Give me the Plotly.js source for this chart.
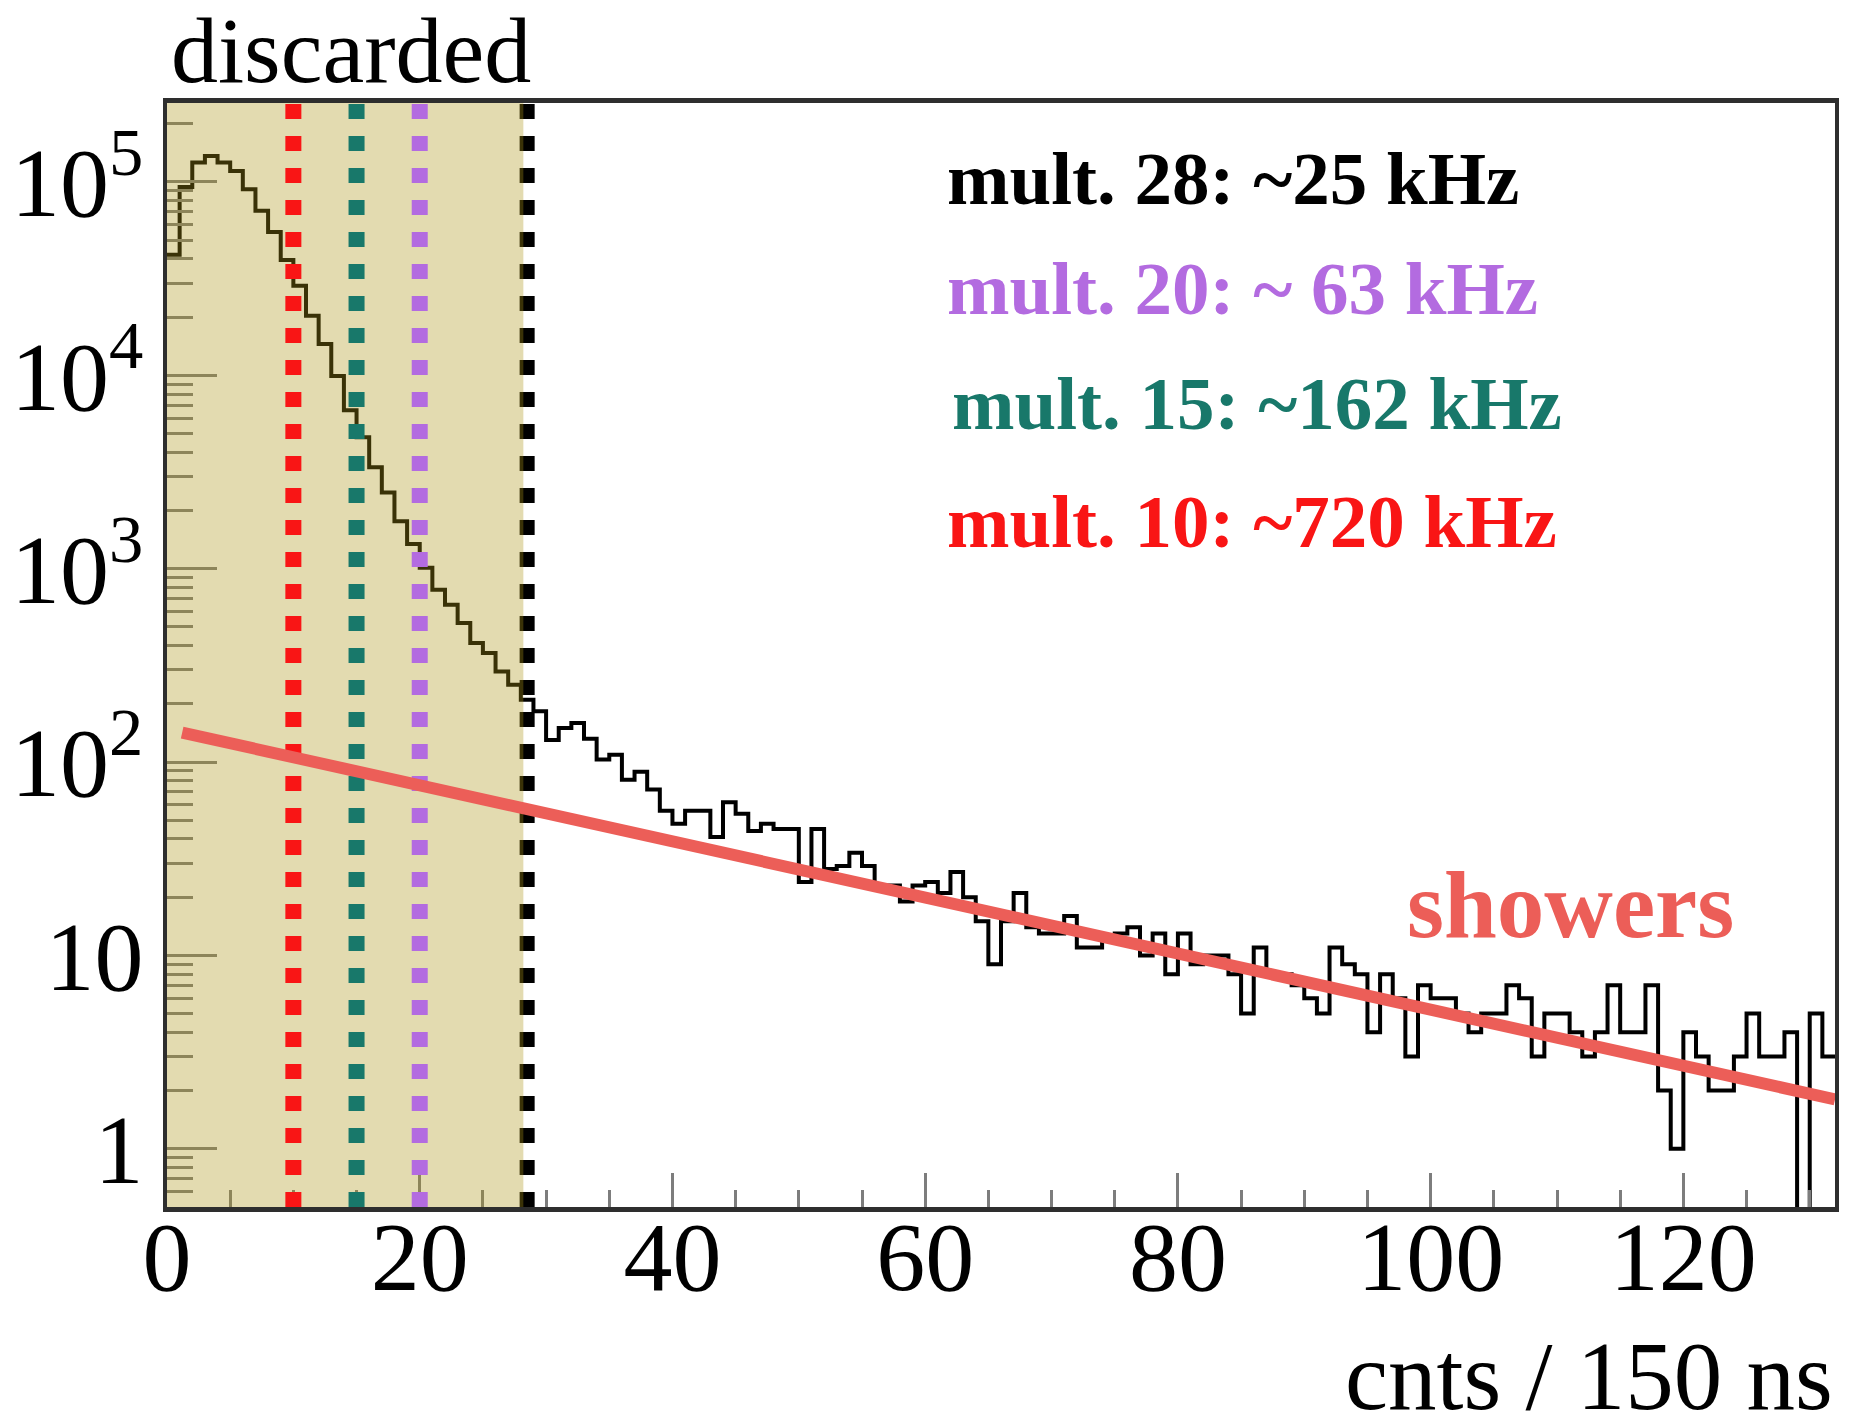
<!DOCTYPE html>
<html>
<head>
<meta charset="utf-8">
<script src="https://cdn.plot.ly/plotly-3.0.1.min.js"></script>
<style>html,body{margin:0;padding:0;background:#ffffff;}</style>
</head>
<body>
<div id="chart" style="width:1856px;height:1413px;"></div>
<script>
// ---------------- data ----------------
const binLow = 0;
const binWidth = 1;
const counts = [
  42000, 94000, 126000, 136000, 126000, 114000, 91500, 71000, 55000, 39500,
  29000, 20300, 14500, 9900, 6600, 4780, 3340, 2480, 1760, 1340,
  1010, 777, 650, 523, 412, 366, 294, 251, 210, 183,
  130, 150, 159, 132, 103, 109, 81, 89, 72, 56,
  48, 56, 56, 41, 62, 54, 44, 48, 45, 45,
  24, 45, 28, 29, 34, 29, 23, 23, 19, 23,
  24, 21, 27, 20, 15, 9, 15, 21, 14, 13,
  13, 16, 11, 11, 12, 13, 14, 10, 13, 8,
  13, 9, 10, 10, 8, 5, 11, 8, 8, 7,
  6, 5, 11, 9, 8, 4, 8, 6, 3, 7,
  6, 6, 5, 4, 5, 5, 7, 6, 3, 5,
  5, 4, 3, 4, 7, 4, 4, 7, 2, 1,
  4, 3, 2, 2, 3, 5, 3, 3, 4, 0,
  5, 3
];
const fitX = [1.2, 132];          // "showers" exponential fit (straight on log scale)
const fitY = [142, 1.8];
const cutX = [10, 15, 20, 28.5];  // multiplicity thresholds
const cutColors = ['#F91515', '#18786A', '#B36BE0', '#000000'];
const discardedUpTo = 28.2;
const legendLabels = ['mult. 28: ~25 kHz', 'mult. 20: ~ 63 kHz', 'mult. 15: ~162 kHz', 'mult. 10: ~720 kHz'];
const legendColors = ['#000000', '#B36BE0', '#18786A', '#F91515'];
const xTickStep = 20;
const yTickVals = [1, 10, 100, 1000, 10000, 100000];
const yTickText = ['1', '10', '10<sup>2</sup>', '10<sup>3</sup>', '10<sup>4</sup>', '10<sup>5</sup>'];
const xTitle = 'cnts / 150 ns';
const regionLabel = 'discarded';
const fitLabel = 'showers';

// ---------------- build ----------------
const yMin = 0.5, yMaxLog = 5.408;
const edges = counts.map((_, i) => binLow + i * binWidth);
edges.push(binLow + counts.length * binWidth);
const floorVal = 0.1; // empty bins drop below the axis (as on a log plot)
const stepY = counts.map(v => (v > 0 ? v : floorVal));
stepY.push(stepY[stepY.length - 1]);

const minorY = [];
for (let e = -1; e <= 5; e++) {
  for (let d = 2; d <= 9; d++) {
    const v = d * Math.pow(10, e);
    if (v > yMin && Math.log10(v) < yMaxLog) minorY.push(v);
  }
}

const serif = 'Liberation Serif, Times New Roman, serif';
const tickGray = '#7d7d7d';

const traces = [{
  type: 'scatter', mode: 'lines',
  x: edges, y: stepY,
  line: {shape: 'hv', color: '#000000', width: 4},
  hoverinfo: 'skip', showlegend: false
}];

const shapes = [];
// black threshold (partly under the shading)
shapes.push({type: 'line', layer: 'above', xref: 'x', yref: 'paper',
  x0: cutX[3], x1: cutX[3], y0: 0, y1: 1,
  line: {color: cutColors[3], width: 15, dash: '15px,17px'}});
// discarded region overlay
shapes.push({type: 'rect', layer: 'above', xref: 'x', yref: 'paper',
  x0: binLow, x1: discardedUpTo, y0: 0, y1: 1,
  fillcolor: 'rgba(172,148,21,0.337)', line: {width: 0}});
for (let i = 0; i < 3; i++) {
  shapes.push({type: 'line', layer: 'above', xref: 'x', yref: 'paper',
    x0: cutX[i], x1: cutX[i], y0: 0, y1: 1,
    line: {color: cutColors[i], width: 16, dash: '15px,17px'}});
}
// fit line on top
shapes.push({type: 'line', layer: 'above', xref: 'x', yref: 'y',
  x0: fitX[0], y0: fitY[0], x1: fitX[1], y1: fitY[1],
  line: {color: '#EC5E58', width: 12}});

const L = 167, R = 21, T = 103, B = 206;
const W = 1856, H = 1413;
const pw = W - L - R, ph = H - T - B;
const px = v => (v - L) / pw;
const py = v => (H - B - v) / ph;

const annotations = [];
annotations.push({text: regionLabel, xref: 'paper', yref: 'paper', x: px(351), y: py(50),
  xanchor: 'center', yanchor: 'middle', showarrow: false,
  font: {family: serif, size: 94, color: '#000000'}});
const legendCenters = [178, 288, 403, 521.5];
const legendLeft = [945, 945, 950, 945];
for (let i = 0; i < legendLabels.length; i++) {
  annotations.push({text: legendLabels[i], xref: 'paper', yref: 'paper',
    x: px(legendLeft[i]), y: py(legendCenters[i]), xanchor: 'left', yanchor: 'middle',
    showarrow: false, font: {family: serif, size: 75, color: legendColors[i], weight: 700}});
}
annotations.push({text: fitLabel, xref: 'paper', yref: 'paper', x: px(1570), y: py(905),
  xanchor: 'center', yanchor: 'middle', showarrow: false,
  font: {family: serif, size: 95, color: '#EC5E58', weight: 700}});
annotations.push({text: xTitle, xref: 'paper', yref: 'paper', x: 1, y: py(1376),
  xanchor: 'right', yanchor: 'middle', showarrow: false,
  font: {family: serif, size: 97, color: '#000000'}});

const layout = {
  width: W, height: H, autosize: false,
  margin: {l: L, r: R, t: T, b: B, pad: 0},
  paper_bgcolor: '#ffffff', plot_bgcolor: '#ffffff',
  showlegend: false,
  xaxis: {
    range: [binLow, binLow + counts.length * binWidth],
    tickmode: 'linear', tick0: 0, dtick: xTickStep,
    ticks: 'inside', ticklen: 34, tickwidth: 3, tickcolor: tickGray,
    minor: {ticks: 'inside', tickmode: 'linear', tick0: 0, dtick: 5, ticklen: 17, tickwidth: 3, tickcolor: tickGray},
    showline: true, linecolor: '#2e2e2e', linewidth: 5, mirror: true,
    showgrid: false, zeroline: false,
    tickfont: {family: serif, size: 98, color: '#000000'},
    ticklabelstandoff: -40
  },
  yaxis: {
    type: 'log', range: [Math.log10(yMin), yMaxLog],
    tickmode: 'array', tickvals: yTickVals, ticktext: yTickText,
    ticks: 'inside', ticklen: 50, tickwidth: 3, tickcolor: tickGray,
    minor: {ticks: 'inside', tickmode: 'array', tickvals: minorY, ticklen: 26, tickwidth: 3, tickcolor: tickGray},
    showline: true, linecolor: '#2e2e2e', linewidth: 4, mirror: true,
    showgrid: false, zeroline: false,
    tickfont: {family: serif, size: 98, color: '#000000'},
    ticklabelstandoff: 0
  },
  shapes: shapes,
  annotations: annotations
};

Plotly.newPlot('chart', traces, layout, {staticPlot: true, displayModeBar: false});
</script>
</body>
</html>
